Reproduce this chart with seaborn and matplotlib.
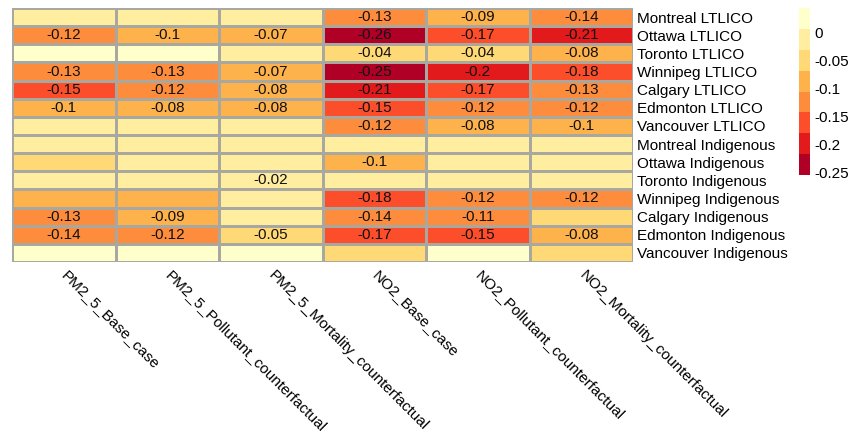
# Heatmap of PM2.5 / NO2 differences by city and group
import numpy as np
import pandas as pd
import matplotlib
matplotlib.use('Agg')
import matplotlib.pyplot as plt
import seaborn as sns
from matplotlib.colors import ListedColormap

sns.set_style('white')
plt.rcParams['font.family'] = ['Liberation Sans', 'DejaVu Sans']
plt.rcParams['text.color'] = 'black'
plt.rcParams['xtick.color'] = 'black'
plt.rcParams['ytick.color'] = 'black'

# Data
rows = ['Montreal LTLICO', 'Ottawa LTLICO', 'Toronto LTLICO', 'Winnipeg LTLICO',
        'Calgary LTLICO', 'Edmonton LTLICO', 'Vancouver LTLICO',
        'Montreal Indigenous', 'Ottawa Indigenous', 'Toronto Indigenous',
        'Winnipeg Indigenous', 'Calgary Indigenous', 'Edmonton Indigenous',
        'Vancouver Indigenous']
cols = ['PM2_5_Base_case', 'PM2_5_Pollutant_counterfactual', 'PM2_5_Mortality_counterfactual',
        'NO2_Base_case', 'NO2_Pollutant_counterfactual', 'NO2_Mortality_counterfactual']

values = [
    [-0.01, -0.01, -0.01, -0.13, -0.09, -0.14],
    [-0.12, -0.10, -0.07, -0.26, -0.17, -0.21],
    [0.02, 0.02, -0.01, -0.04, -0.04, -0.08],
    [-0.13, -0.13, -0.07, -0.25, -0.20, -0.18],
    [-0.15, -0.12, -0.08, -0.21, -0.17, -0.13],
    [-0.10, -0.08, -0.08, -0.15, -0.12, -0.12],
    [-0.01, -0.01, -0.01, -0.12, -0.08, -0.10],
    [-0.01, -0.01, -0.01, -0.01, -0.01, -0.01],
    [-0.04, -0.01, -0.01, -0.10, -0.01, -0.01],
    [-0.01, -0.01, -0.02, -0.01, -0.01, -0.01],
    [-0.09, -0.09, -0.01, -0.18, -0.12, -0.12],
    [-0.13, -0.09, -0.01, -0.14, -0.11, -0.04],
    [-0.14, -0.12, -0.05, -0.17, -0.15, -0.08],
    [0.02, 0.02, 0.02, -0.04, 0.02, -0.04],
]

# 1 = value is shown in the cell
shown = [
    [0, 0, 0, 1, 1, 1],
    [1, 1, 1, 1, 1, 1],
    [0, 0, 0, 1, 1, 1],
    [1, 1, 1, 1, 1, 1],
    [1, 1, 1, 1, 1, 1],
    [1, 1, 1, 1, 1, 1],
    [0, 0, 0, 1, 1, 1],
    [0, 0, 0, 0, 0, 0],
    [0, 0, 0, 1, 0, 0],
    [0, 0, 1, 0, 0, 0],
    [0, 0, 0, 1, 1, 1],
    [1, 1, 0, 1, 1, 0],
    [1, 1, 1, 1, 1, 1],
    [0, 0, 0, 0, 0, 0],
]

cbar_ticks = [0, -0.05, -0.1, -0.15, -0.2, -0.25]
cbar_labels = ['0', '-0.05', '-0.1', '-0.15', '-0.2', '-0.25']

df = pd.DataFrame(values, index=rows, columns=cols)
annot = np.array([[f'{v:g}' if s else '' for v, s in zip(vr, sr)]
                  for vr, sr in zip(values, shown)])

# YlOrRd steps, reversed so the most negative is dark red
colors = ['#B10026', '#E31A1C', '#FC4E2A', '#FD8D3C', '#FEB24C', '#FED976', '#FFEDA0', '#FFFFCC']
cmap = ListedColormap(colors)

fig = plt.figure(figsize=(8.57, 4.37), dpi=100)
ax = fig.add_axes([12/857, (437-262)/437, 621/857, 254/437])
cax = fig.add_axes([799/857, (437-175)/437, 11/857, 167/437])

sns.heatmap(df, ax=ax, cbar_ax=cax, cmap=cmap, vmin=-0.255, vmax=0.043,
            annot=annot, fmt='', linewidths=0.8, linecolor='#A8A8A0',
            annot_kws={'fontsize': 11, 'color': '#111111'})

ax.yaxis.tick_right()
ax.set_yticks(np.arange(len(rows)) + 0.5)
ax.set_yticklabels(rows, rotation=0, fontsize=11)
ax.set_xticks(np.arange(len(cols)) + 0.5)
ax.set_xticklabels(cols, rotation=-45, ha='left', va='center',
                   rotation_mode='anchor', fontsize=11)
ax.tick_params(axis='y', length=0, pad=3, labelcolor='black')
ax.tick_params(axis='x', length=0, pad=8, labelcolor='black')
ax.set_xlabel('')
ax.set_ylabel('')

cbar = ax.collections[0].colorbar
cbar.set_ticks(cbar_ticks)
cbar.set_ticklabels(cbar_labels)
cbar.outline.set_visible(False)
cbar.ax.tick_params(length=0, labelsize=11, pad=3, labelcolor='black')

fig.savefig('out.png', dpi=100)
